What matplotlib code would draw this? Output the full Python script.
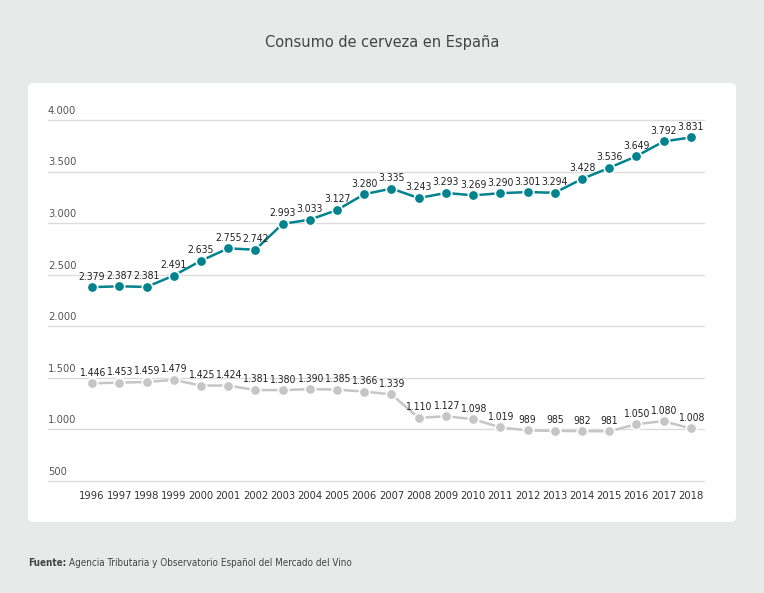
import matplotlib
matplotlib.use('Agg')
import matplotlib.pyplot as plt
from matplotlib.patches import FancyBboxPatch
import matplotlib.transforms as mtrans

plt.rcParams['font.family'] = ['DejaVu Sans']
plt.rcParams['font.stretch'] = 'condensed'

years = list(range(1996, 2019))
cerveza_total = [2379, 2387, 2381, 2491, 2635, 2755, 2742, 2993, 3033, 3127, 3280, 3335,
                 3243, 3293, 3269, 3290, 3301, 3294, 3428, 3536, 3649, 3792, 3831]
cerveza_gris = [1446, 1453, 1459, 1479, 1425, 1424, 1381, 1380, 1390, 1385, 1366, 1339,
                1110, 1127, 1098, 1019, 989, 985, 982, 981, 1050, 1080, 1008]
yticks = [500, 1000, 1500, 2000, 2500, 3000, 3500, 4000]

def fmt(v):
    return '{:,}'.format(v).replace(',', '.')

bg = '#e8e9e9'
teal = '#00838f'
gris = '#c6c6c6'

fig = plt.figure(figsize=(7.64, 5.93), dpi=100)
fig.patch.set_facecolor(bg)

# white panel
panel = FancyBboxPatch((28/764, 1-522/593), (736-28)/764, (522-83)/593,
                       boxstyle='round,pad=0,rounding_size=0.008',
                       transform=fig.transFigure, facecolor='white', edgecolor='none', zorder=-5)
fig.patches.append(panel)

ax = fig.add_axes([48/764, 1-485/593, (705-48)/764, (485-110)/593])
ax.set_zorder(2)
ax.set_facecolor('none')
ax.set_xlim(1994.38, 2018.52)
ax.set_ylim(460, 4097)
for s in ax.spines.values():
    s.set_visible(False)
ax.set_yticks(yticks)
ax.yaxis.grid(True, color='#dcdcdc', lw=1)
ax.tick_params(axis='y', length=0, labelleft=False)
ax.set_xticks(years)
ax.set_xticklabels([str(y) for y in years], fontsize=8, color='#333333')
ax.tick_params(axis='x', length=0, pad=4)
ax.set_axisbelow(True)

trans = mtrans.blended_transform_factory(ax.transAxes, ax.transData)
for t in yticks:
    ax.text(0, t + 40, fmt(t), transform=trans, ha='left', va='bottom',
            fontsize=8, color='#555555')

for vals, col in [(cerveza_total, teal), (cerveza_gris, gris)]:
    ax.plot(years, vals, color=col, lw=1.8, marker='o', markersize=7.5,
            markerfacecolor=col, markeredgecolor='white', markeredgewidth=1.2, zorder=3)
    for x, v in zip(years, vals):
        ax.annotate(fmt(v), (x, v), xytext=(0, 4), textcoords='offset points',
                    ha='center', va='bottom', fontsize=7.5, color='#222222', zorder=4)

fig.text(382/764, 1-42/593, 'Consumo de cerveza en España', ha='center', va='center',
         fontsize=11.7, color='#444444')
t1 = fig.text(28/764, 1-563/593, 'Fuente:', ha='left', va='center', fontsize=7.1,
              fontweight='bold', color='#444444')
fig.canvas.draw()
bb = t1.get_window_extent()
fig.text(bb.x1/764 + 3/764, 1-563/593, 'Agencia Tributaria y Observatorio Español del Mercado del Vino',
         ha='left', va='center', fontsize=7.1, color='#444444')

fig.savefig('out.png', dpi=100, facecolor=bg)
